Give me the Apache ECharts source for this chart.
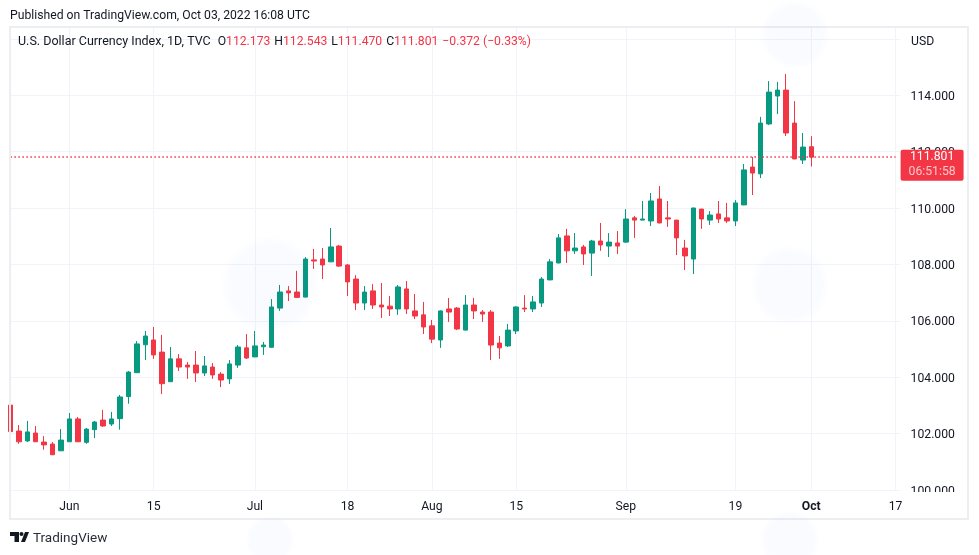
<!DOCTYPE html>
<html><head><meta charset="utf-8">
<style>html,body{margin:0;padding:0;background:#fff}#c{width:979px;height:555px}</style>
<script src="https://cdn.jsdelivr.net/npm/echarts@6/dist/echarts.min.js"></script>
</head><body><div id="c"></div>
<script>
const opens=[103.01,102.09,101.74,102.02,101.70,101.63,101.39,101.71,102.52,101.69,
102.14,102.48,102.34,102.53,103.31,104.16,105.15,105.32,104.89,103.84,
104.65,104.43,104.43,104.15,104.36,104.11,103.94,104.43,105.04,104.72,
105.08,105.06,106.45,107.06,107.02,106.84,108.16,108.19,108.09,108.65,
107.98,107.48,106.63,107.06,106.56,106.52,106.42,107.13,106.35,106.21,
105.82,105.32,106.42,106.45,105.67,106.56,106.31,106.31,105.21,105.11,
105.64,106.45,106.42,106.63,107.45,108.05,109.01,108.48,108.62,108.40,
108.83,108.65,108.76,108.79,109.65,109.57,109.54,110.32,109.65,109.57,
108.58,108.19,109.96,109.57,109.79,109.65,109.54,110.11,111.45,111.21,
112.98,113.97,114.18,113.01,111.70,112.173];
const closes=[102.07,101.71,102.06,101.71,101.60,101.25,101.77,102.52,101.71,102.16,
102.41,102.27,102.52,103.30,104.18,105.18,105.46,104.79,103.77,104.65,
104.36,104.36,104.15,104.40,104.08,103.90,104.47,105.07,104.68,105.11,
105.14,106.49,107.02,106.99,106.83,108.19,108.12,107.98,108.62,107.94,
107.38,106.63,107.02,106.56,106.49,106.42,107.20,106.42,106.17,105.78,
105.35,106.35,106.31,105.71,106.56,106.35,106.24,105.14,105.04,105.67,
106.49,106.42,106.67,107.48,108.09,108.94,108.48,108.58,108.37,108.83,
108.69,108.79,108.65,109.61,109.57,109.61,110.25,109.47,109.61,108.94,
108.30,110.00,109.61,109.75,109.61,109.54,110.18,111.35,111.24,113.01,
114.11,114.18,112.66,111.74,112.16,111.801];
const lows=[102.05,101.64,101.70,101.70,101.43,101.24,101.38,101.70,101.70,101.64,
101.84,102.24,102.27,102.14,103.06,104.15,104.61,104.65,103.40,103.83,
104.22,103.94,103.83,104.04,103.94,103.65,103.76,104.33,104.65,104.71,
104.79,105.04,106.35,106.70,106.81,106.83,107.84,107.48,108.08,107.91,
106.88,106.38,106.38,106.42,106.10,106.17,106.21,106.24,106.06,105.53,
105.21,105.04,105.96,105.67,105.66,106.06,105.96,104.61,104.65,105.07,
105.53,106.31,106.31,106.49,107.44,108.04,108.05,108.37,107.98,107.59,
108.48,108.26,108.37,108.76,108.94,109.57,109.36,109.46,109.33,108.33,
107.80,107.66,109.26,109.40,109.47,109.47,109.36,110.10,110.46,111.06,
112.94,113.33,112.55,111.73,111.56,111.470];
const highs=[103.01,102.30,102.45,102.27,101.91,101.70,102.16,102.73,102.59,102.20,
102.45,102.84,102.77,103.37,104.22,105.28,105.64,105.78,105.50,105.07,
104.82,104.54,104.93,104.75,104.50,104.18,104.61,105.14,105.53,105.64,
105.25,106.77,107.27,107.23,107.77,108.26,108.55,108.58,109.29,108.69,
108.01,107.62,107.23,107.30,107.34,106.88,107.27,107.41,106.95,106.67,
106.03,106.37,106.81,106.49,106.91,106.81,106.38,106.38,105.46,105.89,
106.52,106.91,106.88,107.55,108.19,109.08,109.26,109.11,108.69,108.87,
109.47,109.11,109.18,109.96,109.72,110.25,110.53,110.78,110.25,109.58,
108.87,110.01,109.97,109.89,110.25,110.18,110.28,111.56,111.81,113.23,
114.50,114.47,114.75,113.79,112.66,112.543];
const tickIndex=[7,17,29,40,50,60,73,86,95,105];
const tickLabels=['Jun','15','Jul','18','Aug','15','Sep','19','Oct','17'];
const slotCount=106;
const lastPrice=111.801;
const countdown='06:51:58';
const published='Published on TradingView.com, Oct 03, 2022 16:08 UTC';
const symbolTitle='U.S. Dollar Currency Index, 1D, TVC';
const ohlcText=[['O','112.173'],['H','112.543'],['L','111.470'],['C','111.801']];
const changeText='\u22120.372 (\u22120.33%)';

const GREEN='#089981',RED='#f23645',GRID='#f0f3fa',INK='#131722',FONT='Roboto',FS=12.2;
const categories=Array.from({length:slotCount},(_,i)=>String(i));
const candles=opens.map((o,i)=>[o,closes[i],lows[i],highs[i]]);
const isTick=i=>tickIndex.includes(i);
const legendText='{t|'+symbolTitle+'}{g2| }'+ohlcText.map(p=>'{k|'+p[0]+'}{v|'+p[1]+'}').join('{g| }')+'{g| }{v|'+changeText+'}';
const wm=(cx,cy,rx,ry)=>({type:'ellipse',silent:true,z:30,shape:{cx,cy,rx,ry},style:{fill:new echarts.graphic.RadialGradient(0.5,0.5,0.5,[{offset:0,color:'rgba(41,98,255,0.026)'},{offset:0.8,color:'rgba(41,98,255,0.022)'},{offset:1,color:'rgba(41,98,255,0)'}])}});
const logo=(points)=>({type:'polygon',silent:true,z:7,shape:{points},style:{fill:'#131722'}});

const chart=echarts.init(document.getElementById('c'),null,{renderer:'canvas'});
chart.setOption({
 animation:false,backgroundColor:'#fff',
 textStyle:{fontFamily:FONT},
 title:[
  {text:published,left:10,top:10,padding:0,textStyle:{fontFamily:FONT,fontSize:FS,fontWeight:'normal',color:INK}},
  {text:legendText,left:18,top:35,padding:0,textStyle:{fontFamily:FONT,fontSize:FS,fontWeight:'normal',color:INK,lineHeight:14,
    rich:{t:{fontFamily:FONT,fontSize:12.5,color:INK,lineHeight:14},k:{fontFamily:FONT,fontSize:FS,color:INK,lineHeight:14},v:{fontFamily:FONT,fontSize:FS,color:RED,lineHeight:14},g:{fontSize:16,lineHeight:14},g2:{fontSize:28,lineHeight:14}}}},
  {text:'TradingView',left:33,top:532,padding:0,textStyle:{fontFamily:FONT,fontSize:13.5,fontWeight:'normal',color:'#2a2e39'}},
  {text:'USD',left:911,top:36,padding:0,textStyle:{fontFamily:FONT,fontSize:FS,fontWeight:'normal',color:INK}}
 ],
 grid:{left:10.4,right:83.4,top:27,bottom:65},
 xAxis:{type:'category',data:categories,boundaryGap:false,
  axisLine:{show:true,lineStyle:{color:GRID}},
  axisTick:{show:false},
  splitLine:{show:true,interval:(i)=>isTick(i),lineStyle:{color:GRID,width:1}},
  axisLabel:{interval:(i)=>isTick(i),margin:11,fontFamily:FONT,fontSize:FS,color:INK,hideOverlap:false,
   formatter:(v)=>{const t=tickLabels[tickIndex.indexOf(+v)];return t==='Oct'?'{b|Oct}':t;},
   rich:{b:{fontFamily:FONT,fontSize:FS,fontWeight:'bold',color:INK}}}},
 yAxis:{type:'value',position:'right',min:100,max:116.418,interval:2,scale:true,
  axisLine:{show:false},
  axisTick:{show:true,length:5,lineStyle:{color:GRID}},
  splitLine:{show:true,lineStyle:{color:GRID,width:1}},
  axisLabel:{margin:15,align:'left',verticalAlign:'top',lineHeight:3,fontFamily:FONT,fontSize:FS,color:INK,showMinLabel:true,showMaxLabel:false,
   formatter:(v)=>v>114?'':v.toFixed(3)}},
 series:[{type:'candlestick',data:candles,barWidth:5,clip:true,
  itemStyle:{color:GREEN,color0:RED,borderColor:GREEN,borderColor0:RED,borderWidth:1},
  markLine:{silent:true,symbol:'none',animation:false,
   data:[{yAxis:lastPrice}],
   lineStyle:{color:RED,type:[1.5,2.5],width:1.6,opacity:1},
   label:{position:'end',distance:5,offset:[0,8],backgroundColor:RED,borderRadius:2,padding:[0,8,1,8],
    formatter:()=>'{a|'+lastPrice.toFixed(3)+'}\n{b|'+countdown+'}',
    rich:{a:{color:'#fff',fontFamily:FONT,fontSize:FS,lineHeight:15,align:'center'},
          b:{color:'rgba(255,255,255,0.72)',fontFamily:FONT,fontSize:FS,lineHeight:15,align:'center'}}}}}],
 graphic:[
  {type:'rect',silent:true,z:5,shape:{x:906,y:492,width:61,height:26},style:{fill:'#fff'}},
  {type:'rect',silent:true,z:6,shape:{x:10,y:27,width:958,height:492},style:{fill:'none',stroke:'#eceef2',lineWidth:2}},
  wm(270,285,50,50),wm(790,285,40,50),wm(795,35,38,35),wm(790,540,45,30),wm(270,540,40,25),
  logo([[10,532],[19,532],[19,542],[14.5,542],[14.5,536],[10,536]]),
  logo([[21,542],[25,532],[29,532],[25,542]]),
  {type:'circle',silent:true,z:7,shape:{cx:21.5,cy:534,r:2},style:{fill:'#131722'}}
 ]
});
</script></body></html>
